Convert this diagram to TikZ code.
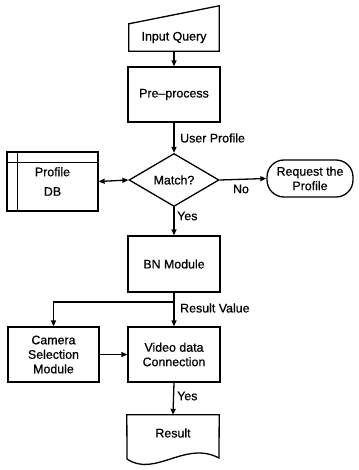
\documentclass[tikz,border=0pt]{standalone}
\usepackage{fontspec}
\setmainfont{Liberation Sans}[FakeBold=0.7]
\usetikzlibrary{arrows.meta,shapes.geometric}
\begin{document}
\begin{tikzpicture}[x=1pt,y=-1pt,
  every node/.style={font=\fontsize{12.4}{14.5}\selectfont},
  line/.style={line width=1.3pt},
  arr/.style={line width=1.3pt,-{Triangle[length=6pt,width=5pt]}},
  box/.style={draw,line width=1.3pt,rectangle,inner sep=0pt,align=center},
  ghost/.style={rectangle,inner sep=0pt,align=center},
  lbl/.style={inner sep=0pt}]
\useasboundingbox (0,0) rectangle (358,470);
% Input Query (manual input)
\node[ghost,minimum width=90pt,minimum height=27pt] (iq) at (174,37.5) {Input Query};
\draw[line,line join=miter] (iq.south west) -- (iq.north west) -- ([yshift=18pt]iq.north east) -- (iq.south east) -- cycle;
% Pre-process
\node[box,minimum width=92pt,minimum height=55pt] (pp) at (174,94.5) {Pre–process};
% Match diamond
\node[draw,line width=1.3pt,diamond,minimum width=90pt,minimum height=53pt,inner sep=0pt] (dm) at (174,180) {Match?};
% Profile DB
\node[box,minimum width=91pt,minimum height=59pt] (db) at (52.5,181.5) {Profile\\[5pt]DB};
\draw[line width=1pt] ([xshift=11pt]db.north west) -- ([xshift=11pt]db.south west);
\draw[line width=1pt] ([yshift=-11pt]db.north west) -- ([yshift=-11pt]db.north east);
% Request the Profile
\node[box,rounded corners=17pt,minimum width=86pt,minimum height=37pt] (rq) at (310,178.5) {Request the\\Profile};
% BN Module
\node[box,minimum width=92pt,minimum height=56pt] (bn) at (174,264) {BN Module};
% Camera Selection Module
\node[box,minimum width=91pt,minimum height=55pt] (cam) at (53.5,354.5) {Camera\\Selection\\Module};
% Video data Connection
\node[box,minimum width=92pt,minimum height=55pt] (vd) at (174,354.5) {Video data\\Connection};
% Result (document)
\node[ghost,minimum width=92pt,minimum height=36pt] (res) at (173,433) {Result};
\draw[line,line join=miter] (127,459) -- (res.north west) -- (res.north east) -- (219,458)
  .. controls (185,440) and (155,478) .. (127,459);
% connectors
\coordinate (br) at (174,302);
\draw[arr] (iq.south) -- (pp.north);
\draw[arr] (pp.south) -- (dm.north);
\node[lbl,anchor=west] (up) at (180,138) {User Profile};
\draw[line,{Triangle[length=6pt,width=5pt]}-{Triangle[length=6pt,width=5pt]}] (db.east) -- (dm.west);
\draw[arr] (dm.east) -- (rq.west);
\node[lbl] (no) at (241,189) {No};
\draw[arr] (dm.south) -- (bn.north);
\node[lbl,anchor=west] (y1) at (177,216) {Yes};
\draw[arr] (bn.south) -- (vd.north);
\draw[arr] (br) -| (cam.north);
\node[lbl,anchor=west] (rv) at (180,308) {Result Value};
\draw[arr] (cam.east) -- (vd.west);
\draw[arr] (vd.south) -- (res.north);
\node[lbl,anchor=west] (y2) at (177,396) {Yes};
\end{tikzpicture}
\end{document}
